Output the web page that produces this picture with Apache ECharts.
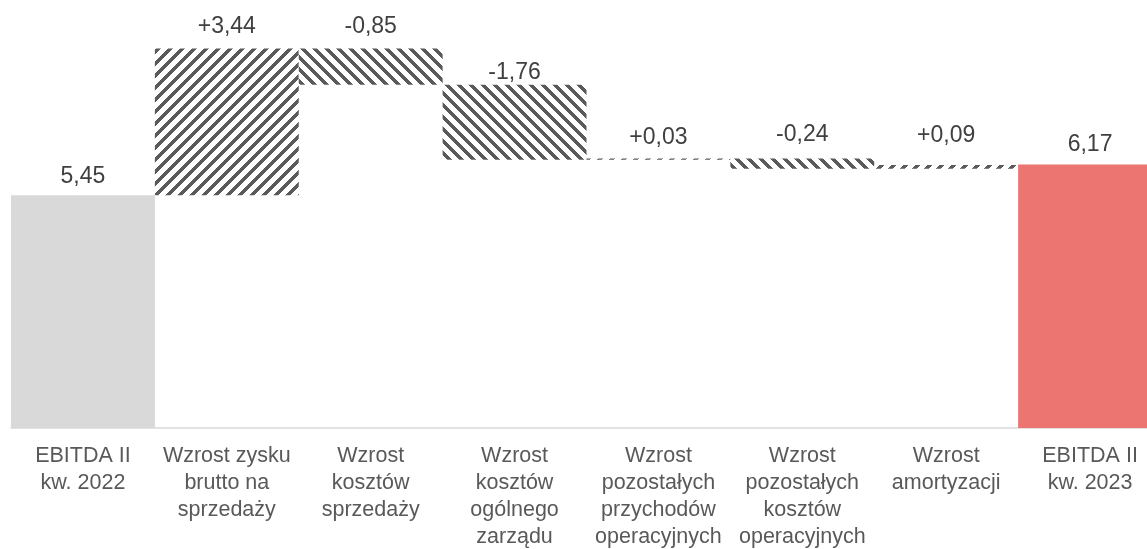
<!DOCTYPE html>
<html>
<head>
<meta charset="utf-8">
<script src="https://cdn.jsdelivr.net/npm/echarts@6/dist/echarts.min.js"></script>
<style>
html,body{margin:0;padding:0;background:#fff;}
#chart{width:1147px;height:549px;}
</style>
</head>
<body>
<div id="chart"></div>
<script>
// ---- data ----
const categories = [
  "EBITDA II\nkw. 2022",
  "Wzrost zysku\nbrutto na\nsprzedaży",
  "Wzrost\nkosztów\nsprzedaży",
  "Wzrost\nkosztów\nogólnego\nzarządu",
  "Wzrost\npozostałych\nprzychodów\noperacyjnych",
  "Wzrost\npozostałych\nkosztów\noperacyjnych",
  "Wzrost\namortyzacji",
  "EBITDA II\nkw. 2023"
];
const startValue = 5.45;
const changes = [3.44, -0.85, -1.76, 0.03, -0.24, 0.09];
const endValue = 6.17;

// ---- styles (per-label gap above the bar) ----
const labelDistance = [7, 10, 10, 0, 9, 12, 17, 8];

function makePattern(up) {
  const P = 12, W = 5;
  const c = document.createElement('canvas');
  c.width = P; c.height = P;
  const ctx = c.getContext('2d');
  ctx.fillStyle = '#ffffff';
  ctx.fillRect(0, 0, P, P);
  ctx.fillStyle = '#5a5a5a';
  for (let y = 0; y < P; y++) {
    for (let x = 0; x < P; x++) {
      const k = up ? (x + y) % P : ((x - y) % P + P) % P;
      if (k < W) ctx.fillRect(x, y, 1, 1);
    }
  }
  return { image: c, repeat: 'repeat' };
}
const upPattern = makePattern(true);
const downPattern = makePattern(false);

const fmt = v => v.toFixed(2).replace('.', ',');

const baseData = [];
const visData = [];
baseData.push(0);
visData.push({
  value: startValue,
  itemStyle: { color: '#d9d9d9' },
  label: { formatter: fmt(startValue), distance: labelDistance[0] }
});
let level = startValue;
changes.forEach((d, i) => {
  const next = level + d;
  baseData.push(Math.min(level, next));
  visData.push({
    value: Math.abs(d),
    itemStyle: { color: d >= 0 ? upPattern : downPattern },
    label: { formatter: (d >= 0 ? '+' : '-') + fmt(Math.abs(d)), distance: labelDistance[i + 1] }
  });
  level = next;
});
baseData.push(0);
visData.push({
  value: endValue,
  itemStyle: { color: '#ed7571' },
  label: { formatter: fmt(endValue), distance: labelDistance[7] }
});

const chart = echarts.init(document.getElementById('chart'), null, { renderer: 'canvas' });
chart.setOption({
  animation: false,
  backgroundColor: '#ffffff',
  grid: { left: 11, width: 1151, bottom: 121, height: 384.3, containLabel: false, outerBoundsMode: 'none' },
  xAxis: {
    type: 'category',
    data: categories,
    axisLine: { lineStyle: { color: '#d9d9d9', width: 1.5 } },
    axisTick: { show: false },
    axisLabel: {
      interval: 0,
      margin: 15,
      color: '#595959',
      fontSize: 21.5,
      lineHeight: 27,
      fontFamily: 'Liberation Sans, Arial, sans-serif'
    }
  },
  yAxis: { type: 'value', min: 0, max: 9, show: false, splitLine: { show: false } },
  series: [
    {
      type: 'bar', stack: 'w', data: baseData,
      itemStyle: { color: 'transparent' },
      barCategoryGap: '0%', silent: true
    },
    {
      type: 'bar', stack: 'w', data: visData,
      barCategoryGap: '0%',
      label: {
        show: true, position: 'top',
        color: '#404040', fontSize: 23, lineHeight: 24,
        fontFamily: 'Liberation Sans, Arial, sans-serif'
      }
    }
  ]
});
</script>
</body>
</html>
